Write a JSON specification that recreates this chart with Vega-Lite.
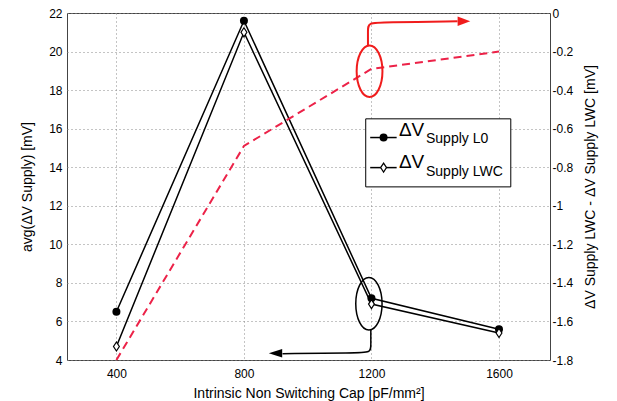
{
  "$schema": "https://vega.github.io/schema/vega-lite/v6.json",
  "width": 483,
  "height": 347,
  "autosize": "none",
  "padding": {"left": 67, "top": 13, "right": 67, "bottom": 41},
  "background": "white",
  "config": {
    "font": "Liberation Sans",
    "view": {"stroke": "#444", "strokeWidth": 1},
    "axis": {
      "domain": false,
      "ticks": false,
      "labelColor": "#000",
      "titleColor": "#000",
      "labelFontSize": 12,
      "titleFontSize": 14,
      "titleFontWeight": "normal",
      "gridColor": "#888",
      "gridDash": [1, 3],
      "gridWidth": 1,
      "labelOverlap": false
    }
  },
  "datasets": {
    "main": [
      {"cap": 400, "series": "L0", "v": 6.5},
      {"cap": 800, "series": "L0", "v": 21.6},
      {"cap": 1200, "series": "L0", "v": 7.2},
      {"cap": 1600, "series": "L0", "v": 5.6},
      {"cap": 400, "series": "LWC", "v": 4.7},
      {"cap": 800, "series": "LWC", "v": 21.0},
      {"cap": 1200, "series": "LWC", "v": 6.9},
      {"cap": 1600, "series": "LWC", "v": 5.4}
    ],
    "diff": [
      {"cap": 400, "d": -1.8},
      {"cap": 800, "d": -0.69},
      {"cap": 1200, "d": -0.29},
      {"cap": 1600, "d": -0.2}
    ],
    "arrowBlack": [
      {"o": 0, "x": 1198, "y": 5.56},
      {"o": 1, "x": 1198, "y": 4.75},
      {"o": 2, "x": 1198, "y": 4.38},
      {"o": 3, "x": 1150, "y": 4.37},
      {"o": 4, "x": 921, "y": 4.33}
    ],
    "arrowRed": [
      {"o": 0, "x": 1189, "y": -0.168},
      {"o": 1, "x": 1189, "y": -0.09},
      {"o": 2, "x": 1189, "y": -0.05},
      {"o": 3, "x": 1240, "y": -0.049},
      {"o": 4, "x": 1470, "y": -0.043}
    ]
  },
  "layer": [
    {
      "layer": [
        {
          "data": {"name": "main"},
          "mark": {"type": "line", "color": "black", "strokeWidth": 1.5},
          "encoding": {
            "x": {
              "field": "cap", "type": "quantitative",
              "scale": {"domain": [245, 1760], "nice": false, "zero": false},
              "axis": {"values": [400, 800, 1200, 1600], "format": "d", "grid": true, "title": "Intrinsic Non Switching Cap [pF/mm²]", "labelPadding": 8, "titlePadding": 7}
            },
            "y": {
              "field": "v", "type": "quantitative",
              "scale": {"domain": [4, 22], "nice": false, "zero": false},
              "axis": {"tickCount": 10, "values": [4, 6, 8, 10, 12, 14, 16, 18, 20, 22], "grid": true, "title": "avg(ΔV Supply) [mV]", "labelPadding": 5, "titlePadding": 14}
            },
            "detail": {"field": "series"}
          }
        },
        {
          "data": {"name": "main"},
          "transform": [{"filter": "datum.series === 'L0'"}],
          "mark": {"type": "point", "shape": "circle", "filled": true, "color": "black", "size": 64, "opacity": 1},
          "encoding": {
            "x": {"field": "cap", "type": "quantitative"},
            "y": {"field": "v", "type": "quantitative"}
          }
        },
        {
          "data": {"name": "main"},
          "transform": [{"filter": "datum.series === 'LWC'"}],
          "mark": {"type": "point", "shape": "M0,-1L0.65,0L0,1L-0.65,0Z", "filled": false, "fill": "white", "stroke": "black", "strokeWidth": 1.2, "size": 81, "opacity": 1},
          "encoding": {
            "x": {"field": "cap", "type": "quantitative"},
            "y": {"field": "v", "type": "quantitative"}
          }
        },
        {
          "data": {"values": [{}]},
          "mark": {"type": "point", "shape": "M0,-1A0.5,1,0,1,1,0,1A0.5,1,0,1,1,0,-1Z", "filled": false, "stroke": "black", "strokeWidth": 1.5, "size": 2767, "opacity": 1},
          "encoding": {"x": {"datum": 1192}, "y": {"datum": 6.92}}
        },
        {
          "data": {"name": "arrowBlack"},
          "mark": {"type": "line", "color": "black", "strokeWidth": 1.5, "interpolate": "basis"},
          "encoding": {
            "x": {"field": "x", "type": "quantitative"},
            "y": {"field": "y", "type": "quantitative"},
            "order": {"field": "o"}
          }
        },
        {
          "data": {"values": [{}]},
          "mark": {"type": "point", "shape": "M-1,0L1,-0.62L1,0.62Z", "filled": true, "color": "black", "size": 180, "opacity": 1},
          "encoding": {"x": {"datum": 899}, "y": {"datum": 4.35}}
        },
        {
          "data": {"values": [{}]},
          "mark": {"type": "rect", "fill": "white", "stroke": "black", "strokeWidth": 1},
          "encoding": {"x": {"datum": 1182}, "x2": {"datum": 1637}, "y": {"datum": 12.98}, "y2": {"datum": 16.51}}
        },
        {
          "data": {"values": [{}]},
          "mark": {"type": "rule", "color": "black", "strokeWidth": 1.5},
          "encoding": {"x": {"datum": 1196}, "x2": {"datum": 1279}, "y": {"datum": 15.54}}
        },
        {
          "data": {"values": [{}]},
          "mark": {"type": "rule", "color": "black", "strokeWidth": 1.5},
          "encoding": {"x": {"datum": 1196}, "x2": {"datum": 1279}, "y": {"datum": 13.98}}
        },
        {
          "data": {"values": [{}]},
          "mark": {"type": "point", "shape": "circle", "filled": true, "color": "black", "size": 64, "opacity": 1},
          "encoding": {"x": {"datum": 1238}, "y": {"datum": 15.54}}
        },
        {
          "data": {"values": [{}]},
          "mark": {"type": "point", "shape": "M0,-1L0.65,0L0,1L-0.65,0Z", "filled": false, "fill": "white", "stroke": "black", "strokeWidth": 1.2, "size": 81, "opacity": 1},
          "encoding": {"x": {"datum": 1238}, "y": {"datum": 13.98}}
        },
        {
          "data": {"values": [{}]},
          "mark": {"type": "text", "text": "ΔV", "fontSize": 19, "align": "left", "baseline": "alphabetic", "color": "black"},
          "encoding": {"x": {"datum": 1286}, "y": {"datum": 15.645}}
        },
        {
          "data": {"values": [{}]},
          "mark": {"type": "text", "text": "Supply L0", "fontSize": 14, "align": "left", "baseline": "alphabetic", "color": "black"},
          "encoding": {"x": {"datum": 1371}, "y": {"datum": 15.25}}
        },
        {
          "data": {"values": [{}]},
          "mark": {"type": "text", "text": "ΔV", "fontSize": 19, "align": "left", "baseline": "alphabetic", "color": "black"},
          "encoding": {"x": {"datum": 1286}, "y": {"datum": 13.98}}
        },
        {
          "data": {"values": [{}]},
          "mark": {"type": "text", "text": "Supply LWC", "fontSize": 14, "align": "left", "baseline": "alphabetic", "color": "black"},
          "encoding": {"x": {"datum": 1371}, "y": {"datum": 13.57}}
        }
      ]
    },
    {
      "layer": [
        {
          "data": {"name": "diff"},
          "mark": {"type": "line", "color": "#ec2248", "strokeWidth": 2, "strokeDash": [8, 5]},
          "encoding": {
            "x": {"field": "cap", "type": "quantitative"},
            "y": {
              "field": "d", "type": "quantitative",
              "scale": {"domain": [-1.8, 0], "nice": false, "zero": false},
              "axis": {
                "orient": "right",
                "tickCount": 10,
                "values": [-1.8, -1.6, -1.4, -1.2, -1, -0.8, -0.6, -0.4, -0.2, 0],
                "labelExpr": "replace(format(datum.value, '~g'), '\u2212', '-')",
                "grid": false,
                "title": "ΔV Supply LWC - ΔV Supply LWC [mV]",
                "titleAngle": 270,
                "labelPadding": 2,
                "titlePadding": 25
              }
            }
          }
        },
        {
          "data": {"values": [{}]},
          "mark": {"type": "point", "shape": "M0,-1A0.5,1,0,1,1,0,1A0.5,1,0,1,1,0,-1Z", "filled": false, "stroke": "#f01c1c", "strokeWidth": 2, "size": 2663, "opacity": 1},
          "encoding": {"x": {"datum": 1194}, "y": {"datum": -0.302}}
        },
        {
          "data": {"name": "arrowRed"},
          "mark": {"type": "line", "color": "#f01c1c", "strokeWidth": 2, "interpolate": "basis"},
          "encoding": {
            "x": {"field": "x", "type": "quantitative"},
            "y": {"field": "y", "type": "quantitative"},
            "order": {"field": "o"}
          }
        },
        {
          "data": {"values": [{}]},
          "mark": {"type": "point", "shape": "M1,0L-1,-0.75L-1,0.75Z", "filled": true, "color": "#f01c1c", "size": 159, "opacity": 1},
          "encoding": {"x": {"datum": 1490}, "y": {"datum": -0.043}}
        }
      ]
    }
  ],
  "resolve": {"scale": {"y": "independent"}}
}
